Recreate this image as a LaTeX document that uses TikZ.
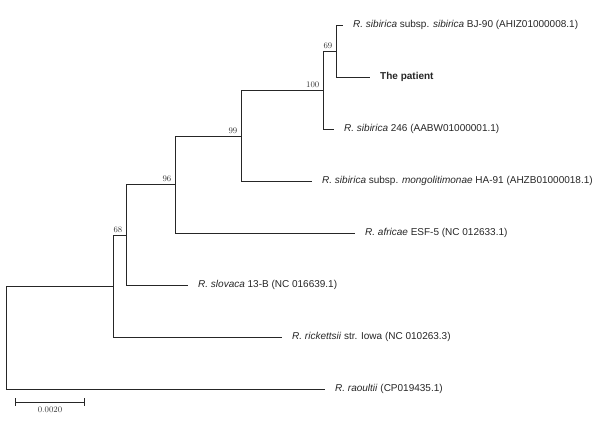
\documentclass[tikz,border=0pt]{standalone}
\usepackage{fontspec}
\newfontfamily\leaffont{Liberation Sans}
\usepackage{tikz}
\usetikzlibrary{positioning}

\begin{document}
\begin{tikzpicture}[x=1pt, y=-1pt,
    branch/.style={draw=black!85, line width=1pt},
    leaf/.style={anchor=west, inner xsep=10pt, inner ysep=1pt, font=\leaffont\fontsize{10}{12}\selectfont, text=black!85},
    boot/.style={anchor=south east, inner xsep=3.5pt, inner ysep=2pt, font=\fontsize{8.5}{10}\selectfont, text=black!80}]

    \useasboundingbox (0,0) rectangle (600,421);

    % inner nodes of the tree
    \coordinate (root) at (6,337);
    \coordinate (n1) at (113,286);
    \coordinate (n2) at (126,235);
    \coordinate (n3) at (175,184);
    \coordinate (n4) at (241,136);
    \coordinate (n5) at (323,90);
    \coordinate (n6) at (336,51);

    % tips
    \node[leaf] (bj90) at (343,25) {\textit{R. sibirica} subsp. \textit{sibirica} BJ-90 (AHIZ01000008.1)};
    \node[leaf] (patient) at (370,77) {\textbf{The patient}};
    \node[leaf] (s246) at (334,129) {\textit{R. sibirica} 246 (AABW01000001.1)};
    \node[leaf] (ha91) at (312,181) {\textit{R. sibirica} subsp. \textit{mongolitimonae} HA-91 (AHZB01000018.1)};
    \node[leaf] (esf5) at (355,233) {\textit{R. africae} ESF-5 (NC 012633.1)};
    \node[leaf] (b13) at (188,285) {\textit{R. slovaca} 13-B (NC 016639.1)};
    \node[leaf] (iowa) at (282,337) {\textit{R. rickettsii} str. Iowa (NC 010263.3)};
    \node[leaf] (raoul) at (325,389) {\textit{R. raoultii} (CP019435.1)};

    % branches
    \draw[branch] (n6) |- (bj90);
    \draw[branch] (n6) |- (patient);
    \draw[branch] (n5) |- (n6);
    \draw[branch] (n5) |- (s246);
    \draw[branch] (n4) |- (n5);
    \draw[branch] (n4) |- (ha91);
    \draw[branch] (n3) |- (n4);
    \draw[branch] (n3) |- (esf5);
    \draw[branch] (n2) |- (n3);
    \draw[branch] (n2) |- (b13);
    \draw[branch] (n1) |- (n2);
    \draw[branch] (n1) |- (iowa);
    \draw[branch] (root) |- (n1);
    \draw[branch] (root) |- (raoul);

    % bootstrap values
    \node[boot] (bs69) at (n6) {69};
    \node[boot] (bs100) at (n5) {100};
    \node[boot] (bs99) at (n4) {99};
    \node[boot] (bs96) at (n3) {96};
    \node[boot] (bs68) at (n2) {68};

    % scale bar
    \coordinate (sbl) at (15,402);
    \coordinate (sbr) at (85,402);
    \draw[branch, |-|] (sbl) -- (sbr) node[midway, below=1pt, font=\fontsize{8.5}{10}\selectfont, text=black!80] (sblabel) {0.0020};
\end{tikzpicture}
\end{document}
